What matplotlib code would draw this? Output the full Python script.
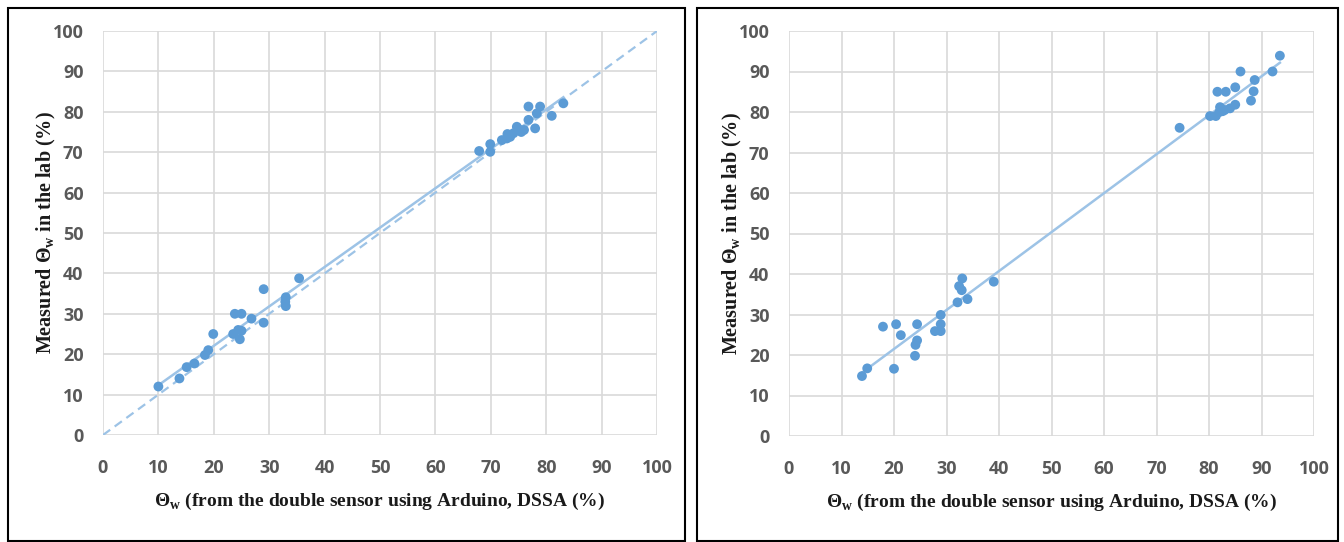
import numpy as np
import matplotlib
matplotlib.use("Agg")
import matplotlib.pyplot as plt
from matplotlib.patches import Rectangle

# ---- data ----
left_x = [10, 13.8, 15.1, 16.5, 18.4, 19.0, 19.9, 23.5, 24.4, 24.7, 25.0, 23.8, 25.0, 26.8,
          29.0, 29.0, 33.0, 33.0, 32.9, 35.4,
          67.9, 69.9, 69.9, 72.0, 72.9, 73.5, 74.1, 74.7, 75.3, 76.0, 76.8, 78.0, 78.3,
          76.8, 78.9, 81.0, 83.1, 73.0, 75.5]
left_y = [12, 14.0, 16.8, 17.7, 19.8, 21.0, 25.0, 25.0, 26.0, 23.7, 25.8, 30.0, 30.0, 28.8,
          36.1, 27.8, 34.1, 31.9, 33.0, 38.8,
          70.3, 72.0, 70.1, 73.0, 73.4, 73.8, 74.7, 76.3, 75.5, 75.5, 78.0, 75.9, 79.6,
          81.3, 81.3, 79.0, 82.1, 74.5, 75.0]

right_x = [13.9, 14.9, 17.9, 20.4, 20.0, 21.3, 24.4, 24.4, 24.1, 24.0, 27.8, 28.9, 28.9, 28.9,
           32.1, 32.4, 33.0, 32.9, 34.0, 39.0,
           74.4, 80.2, 81.3, 81.6, 83.2, 82.1, 82.6, 82.0, 84.0, 85.0, 85.0, 86.0, 88.0,
           88.5, 88.7, 92.1, 93.5, 83.0]
right_y = [14.8, 16.7, 27.0, 27.6, 16.6, 24.9, 27.6, 23.6, 22.5, 19.8, 25.9, 25.9, 27.6, 29.9,
           33.0, 37.0, 38.9, 36.0, 33.8, 38.1,
           76.1, 79.0, 79.0, 85.0, 85.0, 81.2, 80.2, 80.0, 80.9, 81.8, 86.1, 90.0, 82.8,
           85.1, 87.9, 90.0, 93.9, 80.5]

ticks = list(range(0, 101, 10))
one_to_one = [0, 100]

x_label = "Θ$_\\mathbf{w}$ (from the double sensor using Arduino, DSSA (%)"
y_label = "Measured Θ$_\\mathbf{w}$ in the lab (%)"

# ---- style ----
plt.rcParams['mathtext.fontset'] = 'custom'
plt.rcParams['mathtext.bf'] = 'Liberation Serif:bold'
plt.rcParams['mathtext.rm'] = 'Liberation Serif'

W, H = 1344, 542
fig = plt.figure(figsize=(W / 100, H / 100), dpi=100)

dot = '#5b9bd5'
trend = '#9dc3e6'
grid = '#d9d9d9'
tickc = '#595959'


def panel(rect, xs, ys, dashed):
    ax = fig.add_axes(rect)
    ax.set_xlim(0, 100)
    ax.set_ylim(0, 100)
    ax.set_xticks(ticks)
    ax.set_yticks(ticks)
    ax.grid(True, color=grid, linewidth=1.2)
    ax.set_axisbelow(True)
    for s in ax.spines.values():
        s.set_visible(False)
    ax.tick_params(axis='x', length=0, pad=17, labelsize=13, labelcolor=tickc)
    ax.tick_params(axis='y', length=0, pad=14, labelsize=13, labelcolor=tickc)
    for lab in ax.get_xticklabels() + ax.get_yticklabels():
        lab.set_fontfamily('Open Sans')
        lab.set_fontweight('bold')
    if dashed:
        ax.plot(one_to_one, one_to_one, color=trend, lw=1.6, ls=(0, (4, 2.5)), zorder=2)
    xs = np.asarray(xs)
    ys = np.asarray(ys)
    k, b = np.polyfit(xs, ys, 1)
    xx = np.array([xs.min(), xs.max()])
    ax.plot(xx, k * xx + b, color=trend, lw=1.8, zorder=2)
    ax.scatter(xs, ys, s=50, color=dot, edgecolors='none', zorder=3)
    ax.set_xlabel(x_label, fontfamily='Liberation Serif', fontweight='bold',
                  fontsize=14, labelpad=10, color='#1a1a1a')
    ax.set_ylabel(y_label, fontfamily='Liberation Serif', fontweight='bold',
                  fontsize=14.5, labelpad=-4, color='#1a1a1a')
    return ax


panel([103 / W, 1 - 435 / H, 554 / W, 404 / H], left_x, left_y, True)
panel([789 / W, 1 - 436 / H, 525 / W, 405 / H], right_x, right_y, False)

# panel frames
for x0, x1 in [(8, 685), (697, 1338)]:
    fig.patches.append(Rectangle((x0 / W, 1 - 541 / H), (x1 - x0) / W, (541 - 8) / H,
                                 transform=fig.transFigure, fill=False,
                                 edgecolor='black', linewidth=1.5))

fig.savefig('out.png', dpi=100)
